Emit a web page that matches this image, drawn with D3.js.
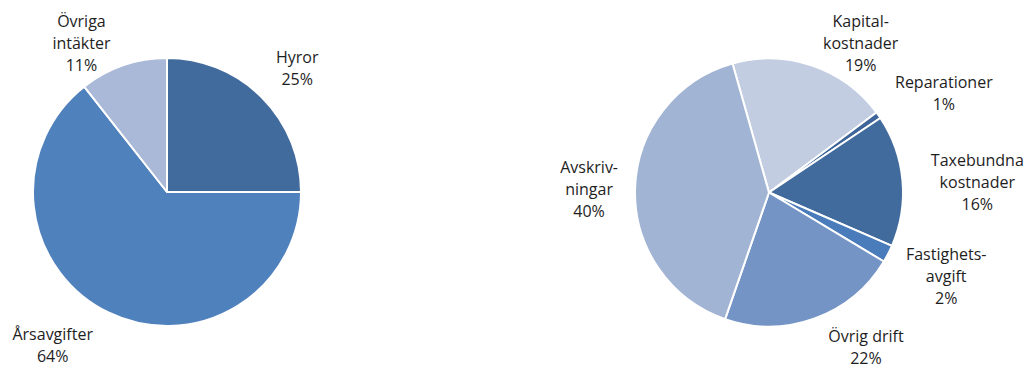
<!DOCTYPE html>
<html>
<head>
<meta charset="utf-8">
<script src="https://cdn.jsdelivr.net/npm/d3@7"></script>
<style>
  html, body { margin: 0; padding: 0; background: #fff; }
  svg { display: block; }
  text { font-family: "Open Sans", sans-serif; font-size: 16px; fill: #1e1e1e; }
</style>
</head>
<body>
<svg id="chart" width="1031" height="370"></svg>
<script>
// ---- Data ----
const incomeCategories = [["Hyror"], ["Årsavgifter"], ["Övriga", "intäkter"]];
const incomeValues = [25, 64.4, 10.6];

const costCategories = [["Kapital-", "kostnader"], ["Reparationer"], ["Taxebundna", "kostnader"],
                        ["Fastighets-", "avgift"], ["Övrig drift"], ["Avskriv-", "ningar"]];
const costValues = [19.2, 0.8, 15.9, 2.1, 21.7, 40.3];

// ---- Styles / layout (not data) ----
const incomeColors = ["#416a9d", "#4f81bd", "#aab9d7"];
const costColors = ["#c2cde2", "#3e6599", "#426b9d", "#4a7bba", "#7494c5", "#a2b4d4"];
const incomeNudge = [[10, -3], [-40, 1], [-30, 13]];
const costNudge = [[37, 12], [36, 0], [39, 5.5], [26, 6.6], [39, -4], [-10, 2]];

const svg = d3.select("#chart");
const R = 134, labelR = 170, lh = 22;

function drawPie(cx, cy, cats, vals, colors, nudge, startDeg) {
  const start = startDeg * Math.PI / 180;
  const pie = d3.pie().sort(null).value(d => d).startAngle(start).endAngle(start + 2 * Math.PI);
  const arcs = pie(vals);
  const arc = d3.arc().innerRadius(0).outerRadius(R);
  const labelArc = d3.arc().innerRadius(labelR).outerRadius(labelR);
  const g = svg.append("g").attr("transform", `translate(${cx},${cy})`);
  g.selectAll("path").data(arcs).join("path")
    .attr("d", arc)
    .attr("fill", (d, i) => colors[i])
    .attr("stroke", "#fff")
    .attr("stroke-width", 2)
    .attr("stroke-linejoin", "round");
  g.selectAll("text.lbl").data(arcs).join("text")
    .attr("class", "lbl")
    .attr("text-anchor", "middle")
    .each(function (d, i) {
      const c = labelArc.centroid(d);
      const x = c[0] + nudge[i][0];
      const yA = c[1] + nudge[i][1];
      const lines = cats[i].concat([Math.round(vals[i]) + "%"]);
      const n = lines.length;
      const y0 = yA - (n - 1) * lh / 2 + 5;
      const sel = d3.select(this);
      lines.forEach((ln, k) => {
        sel.append("tspan").attr("x", x).attr("y", y0 + k * lh).text(ln);
      });
    });
}

drawPie(167, 192, incomeCategories, incomeValues, incomeColors, incomeNudge, 0);
drawPie(769, 192.5, costCategories, costValues, costColors, costNudge, -15.8);
</script>
</body>
</html>
